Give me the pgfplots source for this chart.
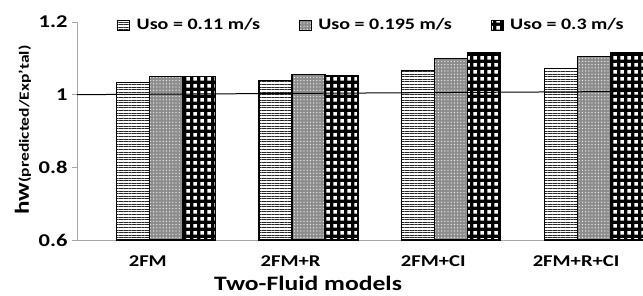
\documentclass[border=0pt]{standalone}
\usepackage{pgfplots}
\pgfplotsset{compat=1.18}
\usepackage{fontspec}
\setmainfont{Carlito}[FakeStretch=1.25]
\usetikzlibrary{patterns,patterns.meta}
\newcommand{\fs}[1]{\fontsize{#1}{#1}\selectfont\bfseries}
\pgfdeclarepatternformonly{wsq}{\pgfpointorigin}{\pgfqpoint{6.6pt}{6.6pt}}{\pgfqpoint{6.6pt}{6.6pt}}{%
  \pgfpathrectangle{\pgfqpoint{1.4pt}{1.4pt}}{\pgfqpoint{3.8pt}{3.8pt}}\pgfusepath{fill}}
\begin{document}
\begin{tikzpicture}[x=1pt,y=1pt]
\useasboundingbox (0,0) rectangle (643,295);
\begin{axis}[
  at={(77pt,55pt)}, anchor=south west,
  scale only axis, width=566pt, height=218pt,
  xmin=-0.622, xmax=3.343, ymin=0.6, ymax=1.2,
  ybar=0pt, bar width=33pt,
  axis x line*=bottom, axis y line*=left,
  axis line style={draw=gray!70, -},
  xtick={0,1,2,3}, xticklabels={2FM,2FM+R,2FM+CI,2FM+R+CI},
  x tick style={draw=none},
  ytick={0.6,0.8,1,1.2},
  yticklabels={0.6,0.8,1,1.2},
  y tick style={draw=gray!70, line width=0.6pt},
  tick align=outside, major tick length=5pt,
  /pgf/number format/assume math mode=true,
  xticklabel style={font=\fs{16.5}, yshift=-7pt, xshift=-18pt},
  yticklabel style={font=\fs{18}, xshift=-1pt},
  clip=false,
  legend columns=3,
  legend style={draw=none, fill=none, at={(rel axis cs:0.071,0.986)}, anchor=west,
    font=\fs{16}, inner sep=0pt},
  legend image code/.code={\draw[#1, line width=0.8pt] (0pt,-5pt) rectangle (12pt,5pt);},
]
\addplot[draw=black, line width=1.2pt, fill=white, postaction={pattern={Lines[angle=0,distance=2.6pt,line width=0.7pt]}, pattern color=black!85}]
  coordinates {(0,1.033) (1,1.038) (2,1.066) (3,1.071)};
\addlegendentry{~Uso = 0.11 m/s\rule{37pt}{0pt}}
\addplot[draw=black, line width=1.2pt, fill=black!45, postaction={pattern={Dots[distance=3.2pt,radius=0.7pt]}, pattern color=white!85!gray}]
  coordinates {(0,1.049) (1,1.055) (2,1.100) (3,1.104)};
\addlegendentry{~Uso = 0.195 m/s\rule{37pt}{0pt}}
\addplot[draw=black, line width=1.2pt, fill=black, postaction={pattern=wsq, pattern color=white}]
  coordinates {(0,1.049) (1,1.052) (2,1.115) (3,1.116)};
\addlegendentry{~Uso = 0.3 m/s}
\addplot[sharp plot, black, line width=1pt, forget plot] coordinates {(-0.622,1.0) (3.343,1.009)};
\end{axis}
\node[rotate=90] at (23,165) {\fs{20}hw\fs{14}(predicted/Exp'tal)};
\node at (308,12) {\fs{20.5}Two-Fluid models};
\end{tikzpicture}
\end{document}
